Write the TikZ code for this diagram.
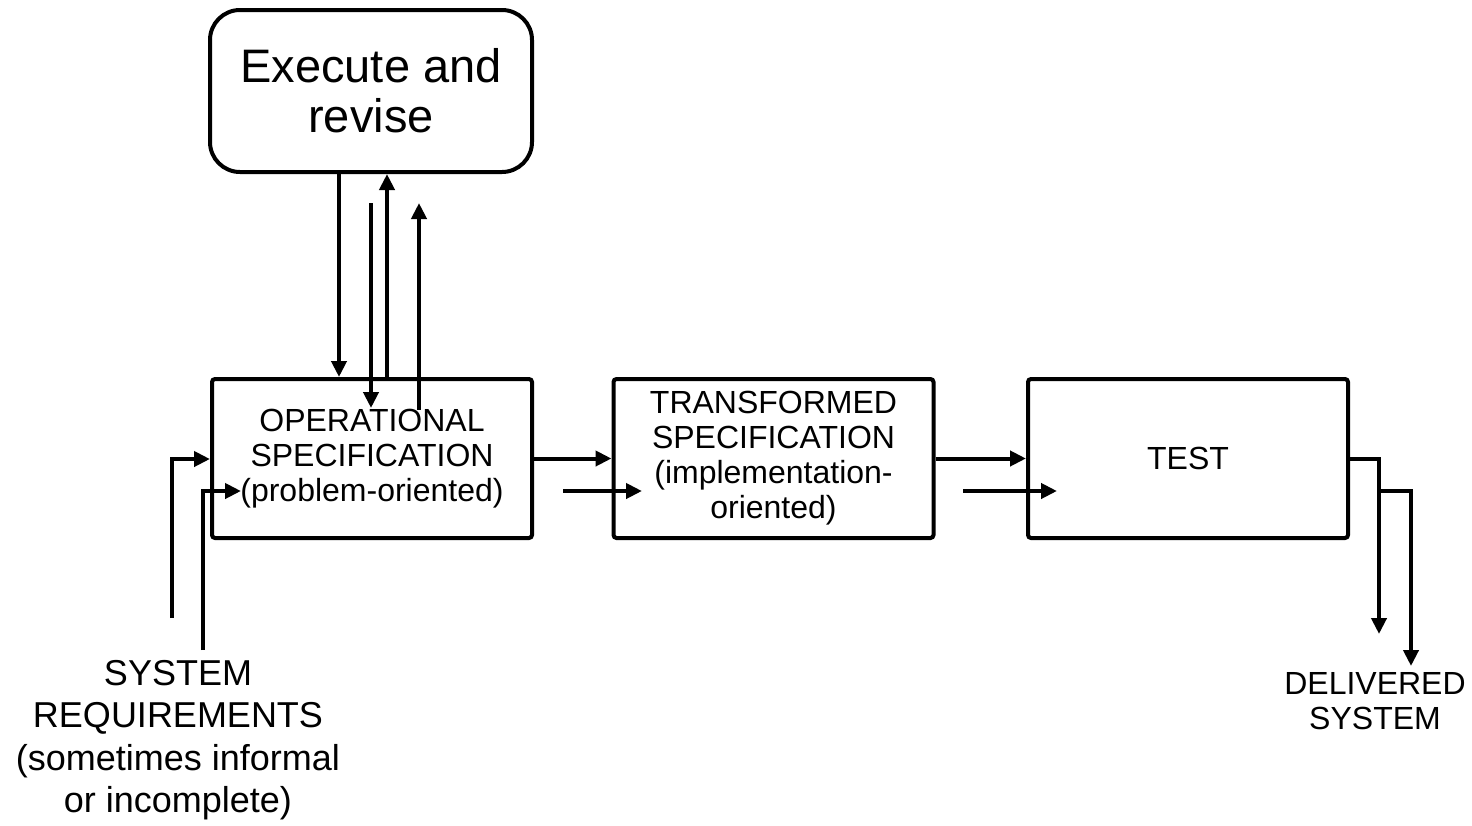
\documentclass[tikz,border=0pt]{standalone}
\usepackage{fontspec}
\setmainfont{Liberation Sans}
\usetikzlibrary{arrows.meta}
\begin{document}
\begin{tikzpicture}[x=0.5pt,y=-0.5pt,
  conn/.style={line width=2pt},
  arr/.style={conn,-{Triangle[width=7.5pt,length=8pt]}},
  stage/.style={draw,line width=2pt,rounded corners=1.5pt,
    minimum width=160pt,minimum height=79.5pt,inner sep=0pt,
    align=center,font=\fontsize{16}{17.5}\selectfont},
  loopbox/.style={draw,line width=2pt,rounded corners=15pt,
    minimum width=161pt,minimum height=81pt,inner sep=0pt,
    align=center,font=\fontsize{23.5}{25}\selectfont},
  label/.style={inner sep=0pt,align=center}]
\useasboundingbox (0,0) rectangle (1472,825);

% boxes
\node[loopbox] (top) at (371,91) {Execute and\\revise};
\node[stage] (op) at (372,458.5) {OPERATIONAL\\SPECIFICATION\\(problem-oriented)};
\node[stage] (tr) at (773.5,458.5) {TRANSFORMED\\SPECIFICATION\\(implementation-\\oriented)};
\node[stage] (te) at (1188,458.5) {TEST};

% free texts
\node[label,anchor=north,font=\fontsize{18}{21.2}\selectfont] (req) at (178,660)
  {SYSTEM\\REQUIREMENTS\\(sometimes informal\\or incomplete)};
\node[label,anchor=north,font=\fontsize{16}{17.5}\selectfont] (dlv) at (1375,672)
  {DELIVERED\\SYSTEM};

% reference coordinates
\coordinate (xa) at (339,0);
\coordinate (xb) at (387,0);
\coordinate (c0) at (371,203);
\coordinate (c1) at (371,408);
\coordinate (d0) at (419,410);
\coordinate (d1) at (419,203);
\coordinate (e0) at (172,618);
\coordinate (e1) at (172,459);
\coordinate (f0) at (203,650);
\coordinate (f1) at (203,491);
\coordinate (f2) at (241,491);
\coordinate (h0) at (563,491);
\coordinate (h1) at (642,491);
\coordinate (j0) at (963,491);
\coordinate (j1) at (1057,491);
\coordinate (k1) at (1379,458.5);
\coordinate (k2) at (1379,634);
\coordinate (l0) at (1379,491);
\coordinate (l1) at (1411,491);
\coordinate (l2) at (1411,666);

% loop between specification and execution
\draw[arr] (top.south -| xa) -- (op.north -| xa);
\draw[arr] (op.north -| xb) -- (top.south -| xb);
\draw[arr] (c0) -- (c1);
\draw[arr] (d0) -- (d1);

% inputs from the requirements
\draw[arr] (e0) -- (e1) -- (op.west |- e1);
\draw[arr] (f0) -- (f1) -- (f2);

% flow between stages
\draw[arr] (op.east) -- (tr.west);
\draw[arr] (h0) -- (h1);
\draw[arr] (tr.east) -- (te.west);
\draw[arr] (j0) -- (j1);

% outputs to the delivered system
\draw[arr] (te.east) -- (k1) -- (k2);
\draw[arr] (l0) -- (l1) -- (l2);
\end{tikzpicture}
\end{document}
